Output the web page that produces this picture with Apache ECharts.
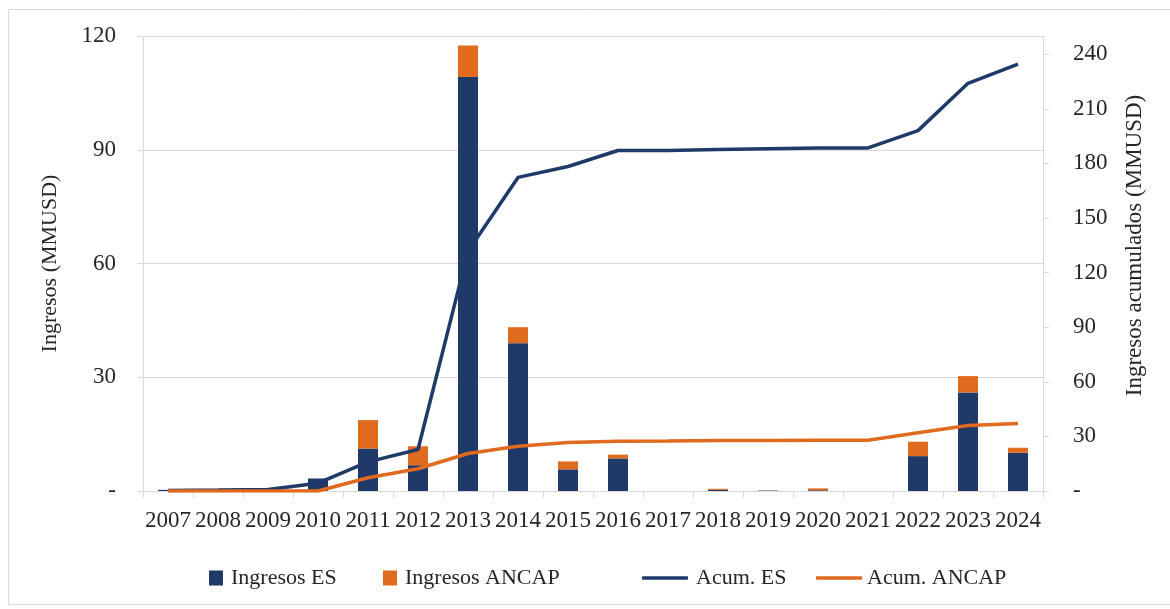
<!DOCTYPE html>
<html>
<head>
<meta charset="utf-8">
<script src="https://cdn.jsdelivr.net/npm/echarts@6/dist/echarts.min.js"></script>
<style>
html,body{margin:0;padding:0;background:#fff;}
#chart{width:1170px;height:609px;}
</style>
</head>
<body>
<div id="chart"></div>
<script>
var years = ['2007','2008','2009','2010','2011','2012','2013','2014','2015','2016','2017','2018','2019','2020','2021','2022','2023','2024'];
var ingresosES = [0.3, 0.2, 0.3, 3.3, 11.2, 6.8, 109.2, 39.0, 5.7, 8.6, 0, 0.3, 0.1, 0.2, 0, 9.2, 26.0, 10.1];
var ingresosANCAP = [0, 0, 0, 0, 7.5, 5.0, 8.3, 4.2, 2.1, 1.0, 0, 0.3, 0.1, 0.5, 0, 3.8, 4.3, 1.3];
var acumES = [0.3, 0.5, 0.8, 4.3, 16.0, 22.8, 131.7, 172.3, 178.3, 187.1, 187.1, 187.6, 188.0, 188.4, 188.5, 198.0, 224.0, 234.5];
var acumANCAP = [0, 0, 0, 0, 7.3, 12.2, 20.6, 24.6, 26.6, 27.4, 27.5, 27.7, 27.8, 27.9, 27.9, 32.0, 36.0, 37.1];

var NAVY = '#1f3a68';
var ORANGE = '#e06a1e';
var GRID = '#d9d9d9';
var TXT = '#262626';
var FONT = 'Liberation Serif';

var chart = echarts.init(document.getElementById('chart'));
var legendText = {fontFamily: FONT, fontSize: 22, color: TXT, lineHeight: 22, padding: [0, 0, 0, 3]};
chart.setOption({
  animation: false,
  textStyle: {fontFamily: FONT},
  graphic: [{
    type: 'rect', silent: true,
    shape: {x: 8.5, y: 9.5, width: 1170, height: 595},
    style: {fill: 'none', stroke: GRID, lineWidth: 1}
  }],
  grid: {left: 143, right: 127, top: 36, bottom: 118, containLabel: false, outerBoundsMode: 'none'},
  legend: [
    {data: ['Ingresos ES'], left: 209, top: 567, padding: 0, icon: 'rect', itemWidth: 14, itemHeight: 15, textStyle: legendText},
    {data: ['Ingresos ANCAP'], left: 383, top: 567, padding: 0, icon: 'rect', itemWidth: 14, itemHeight: 15, textStyle: legendText},
    {data: ['Acum. ES'], left: 642, top: 567, padding: 0, icon: 'roundRect', itemWidth: 46, itemHeight: 3.5, textStyle: legendText},
    {data: ['Acum. ANCAP'], left: 816, top: 567, padding: 0, icon: 'roundRect', itemWidth: 46, itemHeight: 3.5, textStyle: {fontFamily: FONT, fontSize: 22, color: TXT, lineHeight: 22}}
  ],
  xAxis: {
    type: 'category', data: years, boundaryGap: true,
    axisLine: {lineStyle: {color: GRID, width: 1}},
    axisTick: {show: true, interval: 0, length: 7, lineStyle: {color: GRID}},
    axisLabel: {interval: 0, margin: 18, fontFamily: FONT, fontSize: 23, color: TXT}
  },
  yAxis: [{
    type: 'value', min: 0, max: 120, interval: 30, position: 'left',
    name: 'Ingresos (MMUSD)', nameLocation: 'middle', nameRotate: 90, nameGap: 82, nameMoveOverlap: false,
    nameTextStyle: {fontFamily: FONT, fontSize: 22, color: TXT},
    axisLine: {show: true, lineStyle: {color: GRID}},
    axisTick: {show: true, length: 6, lineStyle: {color: GRID}},
    splitLine: {show: true, lineStyle: {color: GRID, width: 1}},
    axisLabel: {margin: 27, fontFamily: FONT, fontSize: 23, color: TXT,
      formatter: function (v) { return v === 0 ? '-' : String(v); }}
  }, {
    type: 'value', min: 0, max: 250, interval: 30, position: 'right',
    name: 'Ingresos acumulados (MMUSD)', nameLocation: 'middle', nameRotate: 90, nameGap: 80, nameMoveOverlap: false,
    nameTextStyle: {fontFamily: FONT, fontSize: 23, color: TXT, padding: [0, 0, 0, 36]},
    axisLine: {show: true, lineStyle: {color: GRID}},
    axisTick: {show: true, length: 6, lineStyle: {color: GRID}},
    splitLine: {show: false},
    axisLabel: {margin: 30, align: 'left', showMaxLabel: false, fontFamily: FONT, fontSize: 23, color: TXT,
      formatter: function (v) { return v === 0 ? '-' : (v > 240 ? '' : String(v)); }}
  }],
  series: [
    {name: 'Ingresos ES', type: 'bar', stack: 'ing', yAxisIndex: 0, data: ingresosES, barWidth: 20, itemStyle: {color: NAVY}},
    {name: 'Ingresos ANCAP', type: 'bar', stack: 'ing', yAxisIndex: 0, data: ingresosANCAP, barWidth: 20, itemStyle: {color: ORANGE}},
    {name: 'Acum. ES', type: 'line', yAxisIndex: 1, data: acumES, symbol: 'none', lineStyle: {color: NAVY, width: 3.5}, itemStyle: {color: NAVY}, z: 3},
    {name: 'Acum. ANCAP', type: 'line', yAxisIndex: 1, data: acumANCAP, symbol: 'none', lineStyle: {color: ORANGE, width: 3.5}, itemStyle: {color: ORANGE}, z: 3}
  ]
});
</script>
</body>
</html>
